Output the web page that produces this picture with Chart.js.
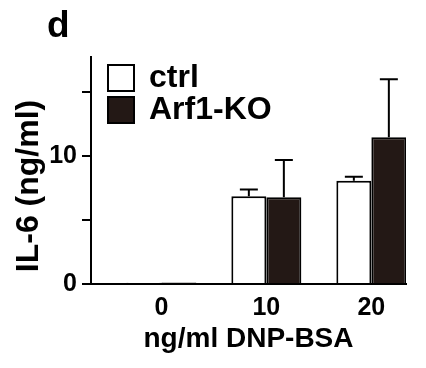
<!DOCTYPE html>
<html>
<head>
<meta charset="utf-8">
<script src="https://cdn.jsdelivr.net/npm/chart.js@4.4.0/dist/chart.umd.min.js"></script>
<style>
  html, body { margin: 0; padding: 0; background: #fff; }
  #myChart { display: block; }
</style>
</head>
<body>
<canvas id="myChart" width="426" height="368"></canvas>
<script>
const doses = [0, 10, 20];
const ctrlMean = [0.1, 6.84, 8.06];
const ctrlErr = [0, 0.52, 0.31];
const koMean = [0.12, 6.76, 11.44];
const koErr = [0, 2.91, 4.53];
const yTicks = [0, 5, 10, 15];
const yTickLabels = ['0', '', '10', ''];
const yTitle = 'IL-6 (ng/ml)';

const FONT = "'Liberation Sans', Arial, sans-serif";
const errs = [ctrlErr, koErr];

// error bars, only the upper half like the original figure
const errorBars = {
  id: 'errorBars',
  afterDatasetsDraw(chart) {
    const ctx = chart.ctx;
    const yScale = chart.scales.y;
    ctx.save();
    ctx.strokeStyle = '#000';
    ctx.lineWidth = 2;
    chart.data.datasets.forEach((ds, i) => {
      const meta = chart.getDatasetMeta(i);
      meta.data.forEach((bar, j) => {
        const e = errs[i][j];
        if (!e) return;
        const top = yScale.getPixelForValue(ds.data[j] + e);
        ctx.beginPath();
        ctx.moveTo(bar.x, bar.y);
        ctx.lineTo(bar.x, top);
        ctx.moveTo(bar.x - 9, top);
        ctx.lineTo(bar.x + 9, top);
        ctx.stroke();
      });
    });
    ctx.restore();
  }
};

// legend boxes inside the plot, y title (sits lower than axis centre), panel letter
const boxLegend = {
  id: 'boxLegend',
  afterDraw(chart) {
    const ctx = chart.ctx;
    ctx.save();
    ctx.font = 'bold 32px ' + FONT;
    ctx.textBaseline = 'alphabetic';
    chart.data.datasets.forEach((ds, i) => {
      const top = 65 + i * 32;
      ctx.fillStyle = ds.backgroundColor;
      ctx.fillRect(108, top, 26, 26);
      ctx.lineWidth = 2;
      ctx.strokeStyle = '#000';
      ctx.strokeRect(108, top, 26, 26);
      ctx.fillStyle = '#000';
      ctx.fillText(ds.label, 149, top + 22);
    });

    ctx.save();
    ctx.translate(29.5, 186);
    ctx.rotate(-Math.PI / 2);
    ctx.textAlign = 'center';
    ctx.textBaseline = 'middle';
    ctx.fillText(yTitle, 0, 0);
    ctx.restore();

    ctx.font = 'bold 37px ' + FONT;
    ctx.fillText('d', 47, 37);
    ctx.restore();
  }
};

new Chart(document.getElementById('myChart'), {
  type: 'bar',
  data: {
    labels: doses,
    datasets: [
      {
        label: 'ctrl',
        data: ctrlMean,
        backgroundColor: '#ffffff',
        borderColor: '#000000',
        borderWidth: 2,
        categoryPercentage: 2 / 3,
        barPercentage: 1
      },
      {
        label: 'Arf1-KO',
        data: koMean,
        backgroundColor: '#231815',
        borderColor: '#000000',
        borderWidth: 2,
        categoryPercentage: 2 / 3,
        barPercentage: 1
      }
    ]
  },
  options: {
    responsive: false,
    animation: false,
    layout: { padding: { top: 57, right: 20, left: 0, bottom: 0 } },
    plugins: {
      legend: { display: false },
      tooltip: { enabled: false }
    },
    scales: {
      x: {
        type: 'linear',
        min: -6.7,
        max: 23.3,
        offset: false,
        afterBuildTicks: s => { s.ticks = doses.map(v => ({ value: v })); },
        afterFit: s => { s.height = 84; },
        grid: { display: false, drawTicks: false },
        border: { display: true, color: '#000', width: 2 },
        ticks: {
          color: '#000',
          padding: 12,
          maxRotation: 0,
          autoSkip: false,
          font: { family: FONT, size: 25, weight: 'bold', lineHeight: 1 }
        },
        title: {
          display: true,
          text: 'ng/ml DNP-BSA',
          color: '#000',
          font: { family: FONT, size: 28, weight: 'bold', lineHeight: 1 },
          padding: { top: 0, bottom: 15 }
        }
      },
      y: {
        min: 0,
        max: 17.7,
        afterBuildTicks: s => { s.ticks = yTicks.map(v => ({ value: v })); },
        afterFit: s => { s.width = 91; },
        grid: { drawOnChartArea: false, drawTicks: true, tickLength: 9, color: '#000', lineWidth: 2 },
        border: { display: true, color: '#000', width: 2 },
        ticks: {
          color: '#000',
          padding: 5,
          callback: (v, i) => yTickLabels[i],
          font: { family: FONT, size: 25, weight: 'bold', lineHeight: 1 }
        },
        title: { display: false }
      }
    }
  },
  plugins: [errorBars, boxLegend]
});
</script>
</body>
</html>
